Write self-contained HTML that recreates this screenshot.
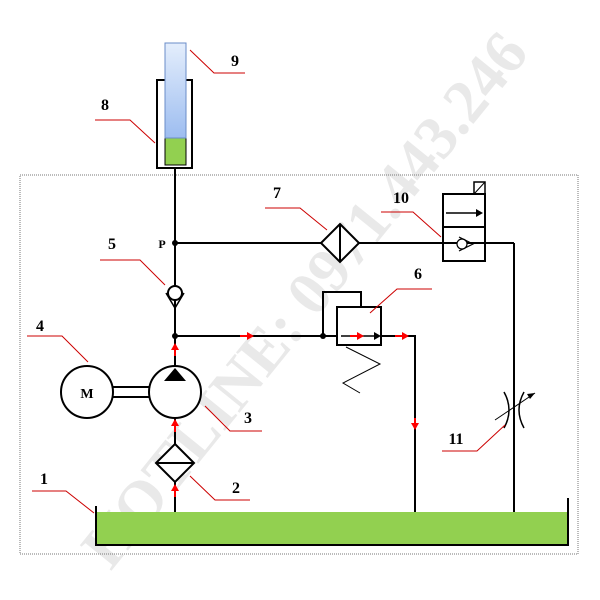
<!DOCTYPE html>
<html><head><style>body{margin:0;background:#fff}svg{display:block}</style></head><body>
<svg width="600" height="600" viewBox="0 0 600 600" xmlns="http://www.w3.org/2000/svg" font-family="Liberation Serif, serif">
<defs>
<linearGradient id="bl" x1="0" y1="0" x2="0" y2="1"><stop offset="0" stop-color="#e4eefc"/><stop offset="1" stop-color="#9dbdf0"/></linearGradient>
</defs>
<text x="305" y="320" font-size="62" font-weight="bold" fill="#e9e9e9" text-anchor="middle" transform="rotate(-51 305 300)">HOTLINE: 0971.443.246</text>
<rect x="20" y="175" width="558" height="379" fill="none" stroke="#777" stroke-width="1" stroke-dasharray="1,1"/>
<g stroke="#000" stroke-width="2" fill="none">
<rect x="157" y="80" width="35" height="88" fill="#fff"/>
<rect x="165" y="138" width="21" height="27" fill="#92d050" stroke="#000" stroke-width="1"/>
<rect x="165" y="43" width="21" height="95" fill="url(#bl)" stroke="#6a8cc8" stroke-width="1"/>
<line x1="175" y1="168" x2="175" y2="512"/>
<line x1="175" y1="243" x2="514" y2="243"/>
<line x1="514" y1="243" x2="514" y2="518"/>
<polygon points="340,224 359,243 340,262 321,243" fill="#fff"/>
<line x1="340" y1="224" x2="340" y2="262"/>
<rect x="443" y="194" width="42" height="67" fill="#fff"/>
<line x1="443" y1="227" x2="485" y2="227"/>
<line x1="443" y1="243" x2="485" y2="243"/>
<rect x="474" y="182" width="11" height="12" stroke-width="1.5"/>
<line x1="474" y1="194" x2="485" y2="182" stroke-width="1"/>
<line x1="446" y1="213" x2="480" y2="213" stroke-width="1.5"/>
<circle cx="462" cy="244" r="5" fill="#fff" stroke-width="1.2"/>
<polyline points="459,237 473,244 459,251" stroke-width="1.2"/>
<circle cx="175" cy="293" r="7" fill="#fff"/>
<polyline points="166,293 175,308 184,293" stroke-width="1.5"/>
<line x1="175" y1="336" x2="337" y2="336"/>
<polyline points="323,336 323,292 361,292 361,307"/>
<rect x="337" y="307" width="44" height="38" fill="#fff"/>
<line x1="341" y1="336" x2="377" y2="336" stroke-width="1.5"/>
<polyline points="381,336 415,336 415,512"/>
<polyline points="346,347 380,364 343,383 360,393" stroke-width="1"/>
<circle cx="175" cy="392" r="26" fill="#fff"/>
<circle cx="87" cy="392" r="26" fill="#fff"/>
<line x1="113" y1="387" x2="149" y2="387"/>
<line x1="113" y1="397" x2="149" y2="397"/>
<polygon points="175,368 186,381 164,381" fill="#000" stroke="none"/>
<polygon points="175,444 194,463 175,482 156,463" fill="#fff"/>
<line x1="156" y1="463" x2="194" y2="463"/>
<path d="M504,392 Q514,410 504,428" stroke-width="1.5"/>
<path d="M524,392 Q514,410 524,428" stroke-width="1.5"/>
<line x1="495" y1="420" x2="535" y2="393" stroke-width="1"/>
</g>
<polygon points="535,393 527,394 530,399" fill="#000"/>
<polygon points="381,336 374,332 374,340" fill="#000"/>
<polygon points="483,213 476,209 476,217" fill="#000"/>
<rect x="96" y="512" width="472" height="33" fill="#92d050"/>
<polyline points="96,506 96,545 568,545 568,498" fill="none" stroke="#000" stroke-width="2"/>
<circle cx="175" cy="243" r="3"/><circle cx="175" cy="336" r="3"/><circle cx="323" cy="336" r="3"/>
<g fill="#f00" stroke="#f00" stroke-width="2">
<line x1="175" y1="356" x2="175" y2="346"/><polygon points="175,343 171,350 179,350" stroke="none"/>
<line x1="175" y1="432" x2="175" y2="422"/><polygon points="175,419 171,426 179,426" stroke="none"/>
<line x1="175" y1="497" x2="175" y2="487"/><polygon points="175,484 171,491 179,491" stroke="none"/>
<line x1="240" y1="336" x2="250" y2="336"/><polygon points="254,336 247,332 247,340" stroke="none"/>
<line x1="350" y1="336" x2="360" y2="336"/><polygon points="364,336 357,332 357,340" stroke="none"/>
<line x1="395" y1="336" x2="405" y2="336"/><polygon points="409,336 402,332 402,340" stroke="none"/>
<line x1="415" y1="418" x2="415" y2="426"/><polygon points="415,430 411,423 419,423" stroke="none"/>
</g>
<g stroke="#c00" stroke-width="1" fill="none">
<polyline points="190,50 214,73 245,73"/>
<polyline points="95,120 130,120 155,143"/>
<polyline points="265,208 300,208 327,230"/>
<polyline points="381,212 413,212 441,237"/>
<polyline points="432,289 397,289 370,313"/>
<polyline points="100,260 140,260 165,285"/>
<polyline points="27,336 62,336 88,362"/>
<polyline points="262,431 230,431 205,406"/>
<polyline points="250,500 215,500 190,476"/>
<polyline points="32,491 66,491 94,513"/>
<polyline points="442,451 477,451 505,425"/>
</g>
<g font-size="16" font-weight="bold" fill="#000" text-anchor="middle">
<text x="235" y="66">9</text><text x="105" y="110">8</text><text x="277" y="198">7</text>
<text x="401" y="203">10</text><text x="418" y="279">6</text><text x="112" y="249">5</text>
<text x="40" y="331">4</text><text x="248" y="423">3</text><text x="236" y="493">2</text>
<text x="44" y="484">1</text><text x="456" y="444">11</text>
<text x="87" y="398" font-size="14">M</text>
<text x="162" y="248" font-size="12">P</text>
</g>
</svg>
</body></html>
